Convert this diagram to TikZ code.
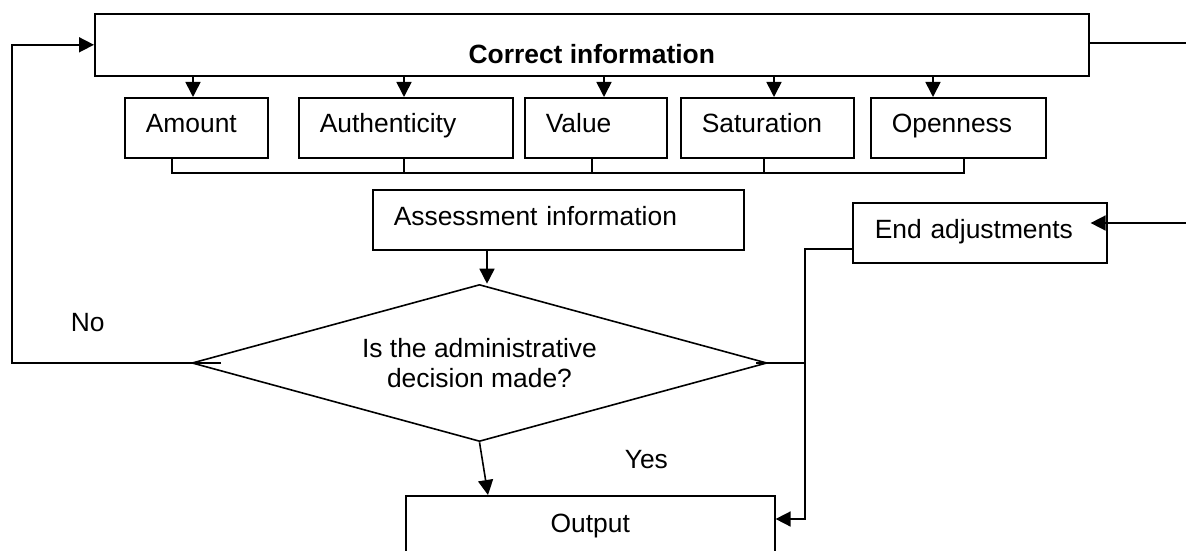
\documentclass[tikz,border=0pt]{standalone}
\usepackage{fontspec}
\setmainfont{Liberation Sans}
\usetikzlibrary{arrows.meta,shapes.geometric}
\tikzset{
  arr/.style={-{Triangle[length=15pt,width=15pt]}},
  item/.style={draw, anchor=north west, inner xsep=21pt, inner ysep=0pt,
    text height=35pt, text depth=25pt, align=left},
}
\begin{document}
\begin{tikzpicture}[x=1pt, y=-1pt, line width=1.6pt, font=\fontsize{26.4pt}{30pt}\selectfont]
    \useasboundingbox (0,0) rectangle (1186,551);
    \node[draw, anchor=north west, minimum width=994pt, inner sep=0pt,
      text height=50pt, text depth=12pt] (CI) at (94,13) {\bfseries Correct information};
    \node[item, text width=101pt] (AM) at (124,97) {Amount};
    \node[item, text width=172pt] (AU) at (298,97) {Authenticity};
    \node[item, text width=100pt] (VA) at (524,97) {Value};
    \node[item, text width=131pt] (SA) at (680,97) {Saturation};
    \node[item, text width=133pt] (OP) at (870,97) {Openness};
    \node[item, text width=329pt, text height=36pt, text depth=24pt] (AI) at (372,189) {Assessment information};
    \node[item, inner xsep=22pt, text width=210pt, text height=36pt, text depth=24pt] (EA) at (852,202) {End adjustments};
    \node[draw, diamond, aspect=3.66, minimum width=575pt, minimum height=157pt,
      inner sep=0pt, align=center] (D) at (479.5,363) {Is the administrative\\decision made?};
    \node[draw, anchor=north west, minimum width=369pt, inner sep=0pt,
      text height=37pt, text depth=38pt] (O) at (405,495) {Output};
    \node[anchor=base west, inner sep=0pt] (NO) at (70,331) {No};
    \node[anchor=base west, inner sep=0pt] (YES) at (624,468) {Yes};
    % arrows into the five boxes
    \foreach \n/\x in {AM/193, AU/404, VA/604, SA/774, OP/933}
        \draw[arr] (CI.south -| \x,0) -- (\n.north -| \x,0);
    % bracket under the boxes
    \draw (AM.south -| 172,0) -- (172,173) -- (964,173) -- (OP.south -| 964,0);
    \foreach \n/\x in {AU/404, VA/592, SA/764}
        \draw (\n.south -| \x,0) -- (\x,173);
    \draw[arr] (AI.south -| 487,0) -- (D.north -| 487,0);
    \draw[arr] (D.south) -- (O.north -| 488,0);
    \draw[arr] ([xshift=30pt]D.west) -- (12,363) |- (CI.west);
    \draw ([xshift=-12pt]D.east) -- (805,363);
    \draw[arr] (EA.west |- 0,249) -| (805,519) -- (O.east |- 0,519);
    \draw[arr] (CI.east |- 0,43) -- (1192,43) |- ([xshift=-17pt]EA.east |- 0,223);
\end{tikzpicture}
\end{document}
